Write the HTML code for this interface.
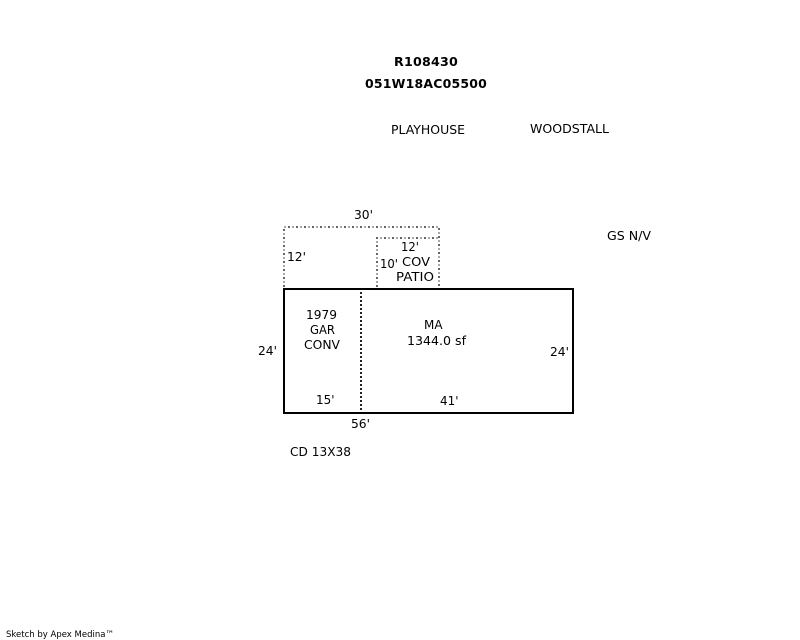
<!DOCTYPE html>
<html><head><meta charset="utf-8"><style>
html,body{margin:0;padding:0;background:#fff}
svg{display:block}
text{font-family:"DejaVu Sans",Verdana,sans-serif;font-size:12px;fill:#000}
.b{font-weight:bold;letter-spacing:.2px}
</style></head><body>
<svg width="800" height="640" viewBox="0 0 800 640" xmlns="http://www.w3.org/2000/svg">
<g fill="none" stroke-width="2" shape-rendering="crispEdges">
<path d="M284 287V227H439V287" stroke="#a8a8a8" stroke-dasharray="2 2"/>
<path d="M377 287V238H439" stroke="#a8a8a8" stroke-dasharray="2 2"/>
<path d="M284 287V227H439V287" stroke="#666" stroke-dasharray="2 6"/>
<path d="M377 287V238H439" stroke="#666" stroke-dasharray="2 6"/>
</g>
<g shape-rendering="crispEdges">
<rect x="284" y="289" width="289" height="124" fill="none" stroke="#000" stroke-width="2"/>
<path d="M361 292V412" stroke="#222" stroke-width="2" stroke-dasharray="2 2" fill="none"/>
</g>
<text class="b" x="394" y="66" textLength="64" lengthAdjust="spacingAndGlyphs">R108430</text>
<text class="b" x="365" y="88" textLength="122" lengthAdjust="spacingAndGlyphs">051W18AC05500</text>
<text x="391" y="134" textLength="74" lengthAdjust="spacingAndGlyphs">PLAYHOUSE</text>
<text x="530" y="133" textLength="79" lengthAdjust="spacingAndGlyphs">WOODSTALL</text>
<text x="354" y="219" textLength="19" lengthAdjust="spacingAndGlyphs">30'</text>
<text x="607" y="240" textLength="44" lengthAdjust="spacingAndGlyphs">GS N/V</text>
<text x="287" y="261" textLength="19" lengthAdjust="spacingAndGlyphs">12'</text>
<text x="401" y="251" textLength="18" lengthAdjust="spacingAndGlyphs">12'</text>
<text x="380" y="268" textLength="18" lengthAdjust="spacingAndGlyphs">10'</text>
<text x="402" y="266" textLength="28" lengthAdjust="spacingAndGlyphs">COV</text>
<text x="396" y="281" textLength="38" lengthAdjust="spacingAndGlyphs">PATIO</text>
<text x="306" y="319" textLength="31" lengthAdjust="spacingAndGlyphs">1979</text>
<text x="310" y="334" textLength="25" lengthAdjust="spacingAndGlyphs">GAR</text>
<text x="304" y="349" textLength="36" lengthAdjust="spacingAndGlyphs">CONV</text>
<text x="424" y="329" textLength="18.500" lengthAdjust="spacingAndGlyphs">MA</text>
<text x="407" y="345" textLength="59" lengthAdjust="spacingAndGlyphs">1344.0 sf</text>
<text x="258" y="355" textLength="19" lengthAdjust="spacingAndGlyphs">24'</text>
<text x="550" y="356" textLength="19" lengthAdjust="spacingAndGlyphs">24'</text>
<text x="316" y="404" textLength="18.500" lengthAdjust="spacingAndGlyphs">15'</text>
<text x="440" y="405" textLength="18.500" lengthAdjust="spacingAndGlyphs">41'</text>
<text x="351" y="428" textLength="19" lengthAdjust="spacingAndGlyphs">56'</text>
<text x="290" y="456" textLength="61" lengthAdjust="spacingAndGlyphs">CD 13X38</text>
<text x="6" y="637" style="font-size:9px" textLength="108" lengthAdjust="spacingAndGlyphs">Sketch by Apex Medina™</text>
</svg>
</body></html>
